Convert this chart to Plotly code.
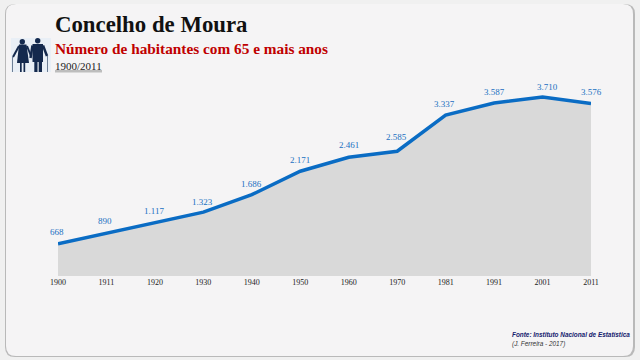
import plotly.graph_objects as go

years = ["1900", "1911", "1920", "1930", "1940", "1950", "1960", "1970", "1981", "1991", "2001", "2011"]
population = [668, 890, 1117, 1323, 1686, 2171, 2461, 2585, 3337, 3587, 3710, 3576]
labels = ["668", "890", "1.117", "1.323", "1.686", "2.171", "2.461", "2.585", "3.337", "3.587", "3.710", "3.576"]
label_dx = [-1, -1, -1, -1, 0, 0, 0, -1, -1, 0, 5, 0]
label_dy = [12, 12, 11, 10, 11, 11, 12, 14, 11, 11, 10, 11]

W, H = 640, 360
L, R, T, B = 58, 49, 83, 84
SERIF = "Liberation Serif"


def px(x):
    return (x - L) / (W - L - R)


def py(y):
    return 1 - (y - T) / (H - T - B)


def rounded(x0, y0, x1, y1, r):
    a, b, c, d = px(x0), px(x1), py(y0), py(y1)
    rx, ry = r / (W - L - R), r / (H - T - B)
    return (f"M{a + rx},{c} L{b - rx},{c} Q{b},{c} {b},{c - ry} L{b},{d + ry} Q{b},{d} {b - rx},{d} "
            f"L{a + rx},{d} Q{a},{d} {a},{d + ry} L{a},{c - ry} Q{a},{c} {a + rx},{c} Z")


def box(x0, y0, x1, y1, color, kind="rect"):
    return dict(type=kind, xref="paper", yref="paper", x0=px(x0), x1=px(x1), y0=py(y0), y1=py(y1),
                fillcolor=color, line_width=0, layer="below")


def stroke(x0, y0, x1, y1, color, width):
    return dict(type="line", xref="paper", yref="paper", x0=px(x0), x1=px(x1), y0=py(y0), y1=py(y1),
                line=dict(color=color, width=width), layer="below")


NAVY = "#14294d"
shapes = [
    dict(type="path", xref="paper", yref="paper", path=rounded(5, 4, 635, 357, 10),
         fillcolor="#b9b9b9", line_width=0, layer="below"),
    dict(type="path", xref="paper", yref="paper", path=rounded(6, 4, 633, 356, 10),
         fillcolor="#f5f4f5", line_width=0, layer="below"),
    box(11, 38, 51, 72, "#e9eff6"),
    # woman
    box(19.6, 39, 25, 44.4, NAVY, "circle"),
    dict(type="path", xref="paper", yref="paper", fillcolor=NAVY, line_width=0, layer="below",
         path=f"M{px(19)},{py(44.5)} L{px(26.5)},{py(44.5)} L{px(29)},{py(63)} L{px(17)},{py(63)} Z"),
    box(20, 62, 21.7, 72, NAVY),
    box(23.5, 62, 25.2, 72, NAVY),
    stroke(19, 46, 13, 57, NAVY, 2),
    stroke(12.5, 57, 12.5, 72, "#6d7f96", 1),
    stroke(27, 46, 31, 56, NAVY, 2),
    # man
    box(35, 38, 40.4, 43.4, NAVY, "circle"),
    box(32.5, 44, 43, 62, NAVY),
    box(34.3, 60, 37.5, 72, NAVY),
    box(38.7, 60, 42, 72, NAVY),
    stroke(32.5, 45.5, 30.5, 58, NAVY, 2.5),
    stroke(43, 45.5, 47, 56, NAVY, 2.5),
    stroke(47.5, 56, 47.5, 72, "#6d7f96", 1),
    # underline of the period label
    box(55, 70, 102, 72.5, "#bdbdbd"),
]

annotations = [
    dict(text="<b>Concelho de Moura</b>", x=px(53.5), y=py(24), font=dict(family=SERIF, size=22.8, color="#111111")),
    dict(text="<b>Número de habitantes com 65 e mais anos</b>", x=px(53.5), y=py(48),
         font=dict(family=SERIF, size=15.3, color="#c00000")),
    dict(text="1900/2011", x=px(53.5), y=py(66.5), font=dict(family=SERIF, size=11, color="#222222")),
    dict(text="<b><i>Fonte: Instituto Nacional de Estatística</i></b>", x=px(511), y=py(334),
         font=dict(family="Liberation Sans", size=6.4, color="#14206e")),
    dict(text="<i>(J. Ferreira - 2017)</i>", x=px(511), y=py(343.5),
         font=dict(family="Liberation Sans", size=6.4, color="#333333")),
]
for a in annotations:
    a.update(xref="paper", yref="paper", xanchor="left", yanchor="middle", showarrow=False, borderpad=0)

for i, (value, label, dx, dy) in enumerate(zip(population, labels, label_dx, label_dy)):
    annotations.append(dict(
        text=label, x=i, y=value, xref="x", yref="y", xshift=dx, yshift=dy,
        showarrow=False, xanchor="center", yanchor="middle", borderpad=0,
        font=dict(family=SERIF, size=9, color="#1a70c2"),
    ))

fig = go.Figure(go.Scatter(
    x=years, y=population, mode="lines",
    line=dict(color="#0a6cc4", width=3.5), fill="tozeroy", fillcolor="#d9d9d9",
    hoverinfo="skip",
))
fig.update_layout(
    width=W, height=H, autosize=False, margin=dict(l=L, r=R, t=T, b=B),
    paper_bgcolor="#f0f0f0", plot_bgcolor="rgba(0,0,0,0)", showlegend=False,
    shapes=shapes, annotations=annotations,
    xaxis=dict(type="category", categoryorder="array", categoryarray=years, range=[0, 11],
               showgrid=False, zeroline=False, showline=False, ticks="", ticklen=0,
               tickangle=0, tickfont=dict(family=SERIF, size=8, color="#222222"),
               automargin=False),
    yaxis=dict(range=[0, 4000], visible=False, automargin=False),
)
fig.write_html("out.html", config=dict(displayModeBar=False),
               post_script="document.body.style.margin='0';")
